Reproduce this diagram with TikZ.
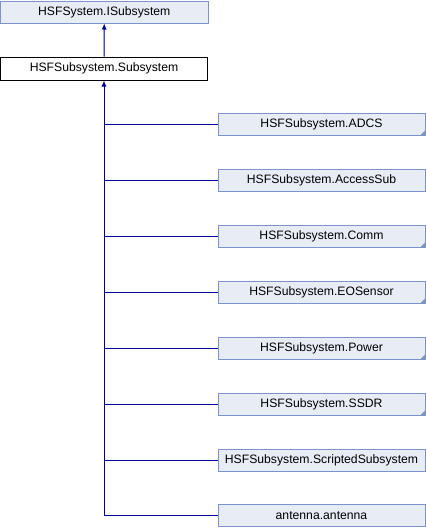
\documentclass[tikz,border=0pt]{standalone}
\usepackage{fontspec}
\setmainfont{Liberation Sans}
\usetikzlibrary{arrows.meta,calc}
\definecolor{boxfill}{RGB}{232,236,245}
\definecolor{boxline}{RGB}{124,148,200}
\definecolor{edgecol}{RGB}{0,0,154}
\tikzset{
  cls/.style={draw=boxline, fill=boxfill, line width=1pt, minimum width=207pt, minimum height=22pt, inner sep=0pt, font=\fontsize{12.2}{14}\selectfont},
  curcls/.style={cls, draw=black, fill=white, minimum height=23pt},
  inh/.style={draw=edgecol, fill=edgecol, line width=1pt, -{Latex[length=6pt,width=5pt]}},
  edgeln/.style={draw=edgecol, line width=1pt},
}
\newcommand{\corner}[1]{\fill[boxline] ($(#1.south east)+(-5.5pt,0.5pt)$) -- ($(#1.south east)+(-0.5pt,0.5pt)$) -- ($(#1.south east)+(-0.5pt,5.5pt)$) -- cycle;}
\begin{document}
\begin{tikzpicture}[x=1pt,y=-1pt]
\useasboundingbox (0,0) rectangle (426,528);
\fill[white] (0,0) rectangle (426,528);
\node[cls, minimum width=207.5pt] (isub) at (104.25,12) {HSFSystem.ISubsystem};
\node[curcls] (sub) at (104,68.5) {HSFSubsystem.Subsystem};
\node[cls] (c1) at (321.5,124.5) {HSFSubsystem.ADCS};
\node[cls] (c2) at (321.5,180.5) {HSFSubsystem.AccessSub};
\node[cls] (c3) at (321.5,236.5) {HSFSubsystem.Comm};
\node[cls] (c4) at (321.5,292.5) {HSFSubsystem.EOSensor};
\node[cls] (c5) at (321.5,348.5) {HSFSubsystem.Power};
\node[cls] (c6) at (321.5,404.5) {HSFSubsystem.SSDR};
\node[cls] (c7) at (321.5,460.5) {HSFSubsystem.ScriptedSubsystem};
\node[cls] (c8) at (321.5,515.5) {antenna.antenna};
\corner{c1}\corner{c3}\corner{c4}\corner{c5}\corner{c6}
\coordinate (t1) at (sub.south |- c1.west);
\coordinate (t2) at (sub.south |- c2.west);
\coordinate (t3) at (sub.south |- c3.west);
\coordinate (t4) at (sub.south |- c4.west);
\coordinate (t5) at (sub.south |- c5.west);
\coordinate (t6) at (sub.south |- c6.west);
\coordinate (t7) at (sub.south |- c7.west);
\coordinate (t8) at (sub.south |- c8.west);
\draw[edgeln] (c1.west) -- (t1);
\draw[edgeln] (c2.west) -- (t2);
\draw[edgeln] (c3.west) -- (t3);
\draw[edgeln] (c4.west) -- (t4);
\draw[edgeln] (c5.west) -- (t5);
\draw[edgeln] (c6.west) -- (t6);
\draw[edgeln] (c7.west) -- (t7);
\draw[edgeln] (c8.west) -- (t8);
\draw[inh] (sub.north) -- (isub.south);
\draw[inh] (t8) -- (sub.south);
\end{tikzpicture}
\end{document}
